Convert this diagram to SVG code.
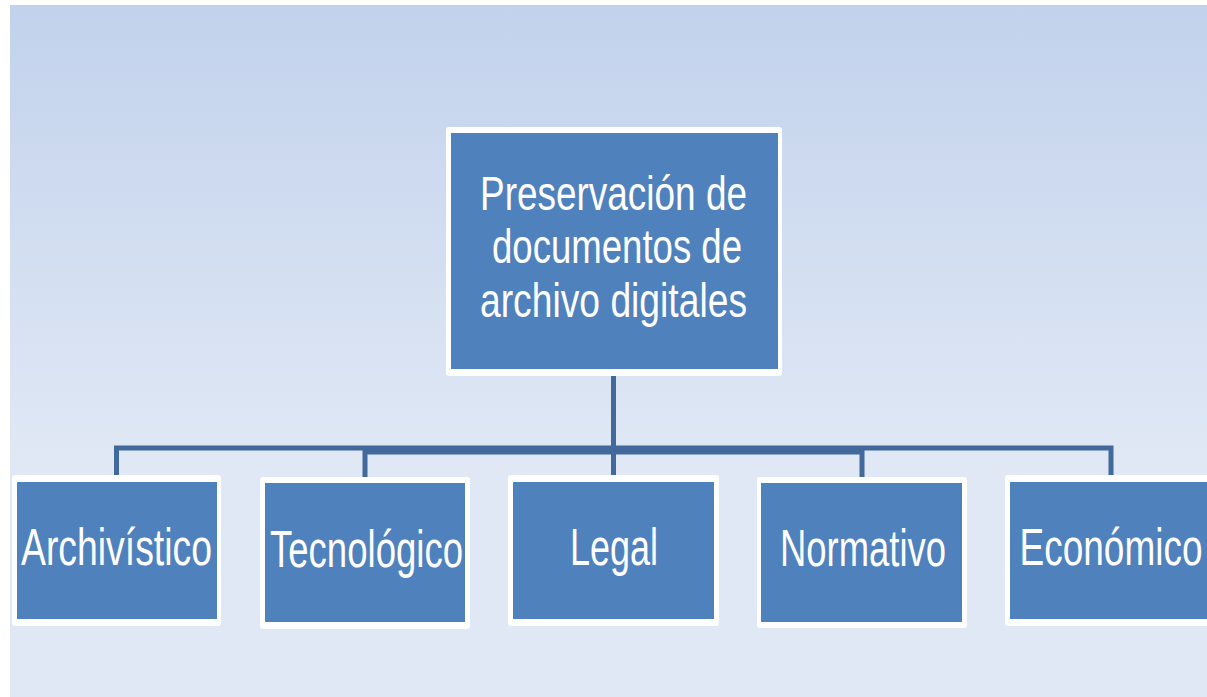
<svg xmlns="http://www.w3.org/2000/svg" width="1207" height="697" viewBox="0 0 1207 697">
<defs>
<linearGradient id="bg" gradientUnits="userSpaceOnUse" x1="0" y1="5" x2="0" y2="460">
<stop offset="0" stop-color="#C2D2EC"/>
<stop offset="1" stop-color="#E0E8F5"/>
</linearGradient>
</defs>
<style>
.outer{fill:#FFFFFF}
.inner{fill:#4F81BD}
.lbl{font-family:"Liberation Sans",Arial,sans-serif;fill:#FFFFFF;text-anchor:middle}
.top{font-size:48px}
.child{font-size:52px}
.con{fill:none;stroke:#41699B;stroke-width:5}
</style>
<rect x="0" y="0" width="1207" height="697" fill="#FFFFFF"/>
<rect x="10" y="5" width="1197" height="692" fill="url(#bg)"/>
<g id="connectors">
<path class="con" d="M613.5,376 V448 H116.5 V475"/>
<path class="con" d="M613.5,376 V452 H365 V477"/>
<path class="con" d="M613.5,376 V475"/>
<path class="con" d="M613.5,376 V452 H862 V477"/>
<path class="con" d="M613.5,376 V448 H1111 V475"/>
</g>
<g id="node-root">
<rect class="outer" x="446" y="127" width="336" height="249" rx="3"/>
<rect class="inner" x="451" y="133" width="327" height="236"/>
<text class="lbl top" x="613.5" y="210" textLength="267" lengthAdjust="spacingAndGlyphs">Preservación de</text>
<text class="lbl top" x="617" y="263" textLength="250" lengthAdjust="spacingAndGlyphs">documentos de</text>
<text class="lbl top" x="613.5" y="317" textLength="267" lengthAdjust="spacingAndGlyphs">archivo digitales</text>
</g>
<g id="node-archivistico">
<rect class="outer" x="12" y="475" width="209" height="151" rx="3"/>
<rect class="inner" x="17" y="482" width="200" height="137"/>
<text class="lbl child" x="116.5" y="565" textLength="191" lengthAdjust="spacingAndGlyphs">Archivístico</text>
</g>
<g id="node-tecnologico">
<rect class="outer" x="260" y="477" width="210" height="152" rx="3"/>
<rect class="inner" x="265" y="483" width="200" height="139"/>
<text class="lbl child" x="366.5" y="567" textLength="193" lengthAdjust="spacingAndGlyphs">Tecnológico</text>
</g>
<g id="node-legal">
<rect class="outer" x="508" y="475" width="211" height="151" rx="3"/>
<rect class="inner" x="513" y="482" width="201" height="137"/>
<text class="lbl child" x="614" y="565" textLength="88" lengthAdjust="spacingAndGlyphs">Legal</text>
</g>
<g id="node-normativo">
<rect class="outer" x="757" y="477" width="210" height="151" rx="3"/>
<rect class="inner" x="761" y="483" width="201" height="139"/>
<text class="lbl child" x="863" y="566" textLength="166" lengthAdjust="spacingAndGlyphs">Normativo</text>
</g>
<g id="node-economico">
<rect class="outer" x="1005" y="475" width="211" height="151" rx="3"/>
<rect class="inner" x="1010" y="482" width="201" height="137"/>
<text class="lbl child" x="1111" y="565" textLength="183" lengthAdjust="spacingAndGlyphs">Económico</text>
</g>
</svg>
